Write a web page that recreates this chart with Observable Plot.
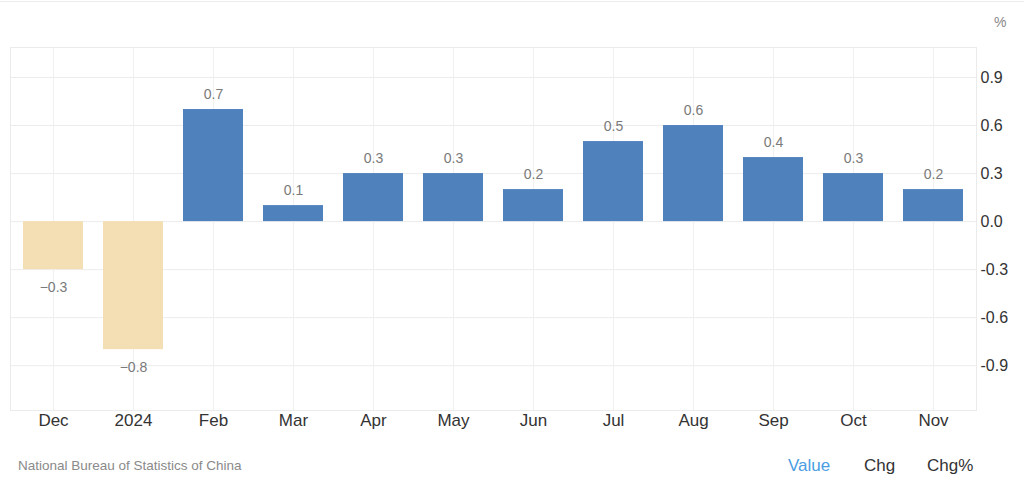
<!DOCTYPE html>
<html>
<head>
<meta charset="utf-8">
<script src="https://cdn.jsdelivr.net/npm/d3@7"></script>
<script src="https://cdn.jsdelivr.net/npm/@observablehq/plot@0.6"></script>
<style>
  html, body { margin: 0; padding: 0; background: #fff; }
  #wrap { position: relative; width: 1024px; height: 482px; font-family: "Liberation Sans", Arial, sans-serif; overflow: hidden; }
  #topline { position: absolute; left: 0; top: 1px; width: 1024px; height: 1px; background: #ececec; }
  #chart { position: absolute; left: 0; top: 0; }
  .t { position: absolute; white-space: nowrap; line-height: 1; }
</style>
</head>
<body>
<div id="wrap">
  <div id="topline"></div>
  <div id="chart"></div>
  <div class="t" style="left:994px; top:15px; font-size:14px; color:#888;">%</div>
  <div class="t" style="left:18px; top:459px; font-size:13.5px; color:#8a8a8a;">National Bureau of Statistics of China</div>
  <div class="t" style="left:788px; top:457px; font-size:17px; color:#4a9de2;">Value</div>
  <div class="t" style="left:864px; top:457px; font-size:17px; color:#333;">Chg</div>
  <div class="t" style="left:927px; top:457px; font-size:17px; color:#333;">Chg%</div>
</div>
<script>
const months = ["Dec", "2024", "Feb", "Mar", "Apr", "May", "Jun", "Jul", "Aug", "Sep", "Oct", "Nov"];
const values = [-0.3, -0.8, 0.7, 0.1, 0.3, 0.3, 0.2, 0.5, 0.6, 0.4, 0.3, 0.2];
const yTicks = [-0.9, -0.6, -0.3, 0, 0.3, 0.6, 0.9];

const data = months.map((m, i) => ({month: m, value: values[i]}));
const pos = data.filter(d => d.value >= 0);
const neg = data.filter(d => d.value < 0);
const fmt = d => d.toFixed(1);

const chart = Plot.plot({
  width: 1024,
  height: 440,
  marginTop: 47,
  marginBottom: 30,
  marginLeft: 10,
  marginRight: 48,
  style: {fontFamily: "'Liberation Sans', Arial, sans-serif", background: "transparent"},
  x: {domain: months, paddingInner: 0.255, paddingOuter: 0.1275, label: null},
  y: {domain: [-1.18, 1.0875], label: null},
  marks: [
    Plot.gridY(yTicks, {stroke: "#ececec", strokeOpacity: 1}),
    Plot.gridX(months, {stroke: "#f0f0f0", strokeOpacity: 1}),
    Plot.frame({stroke: "#ebebeb"}),
    Plot.barY(pos, {x: "month", y: "value", fill: "#4f81bd"}),
    Plot.barY(neg, {x: "month", y: "value", fill: "#f4deb3"}),
    Plot.text(pos, {x: "month", y: "value", text: d => fmt(d.value), dy: -15, fontSize: 14, fill: "#7a7a7a", style: {letterSpacing: "1px"}}),
    Plot.text(neg, {x: "month", y: "value", text: d => "\u2212" + fmt(Math.abs(d.value)), dy: 18, fontSize: 14, fill: "#7a7a7a", style: {letterSpacing: "1px"}}),
    Plot.axisY(yTicks, {anchor: "right", tickSize: 0, tickPadding: 4, tickFormat: fmt, fontSize: 16, fill: "#333", label: null}),
    Plot.axisX({tickSize: 0, tickPadding: 3, fontSize: 17, fill: "#333", label: null})
  ]
});
document.getElementById("chart").appendChild(chart);
</script>
</body>
</html>
